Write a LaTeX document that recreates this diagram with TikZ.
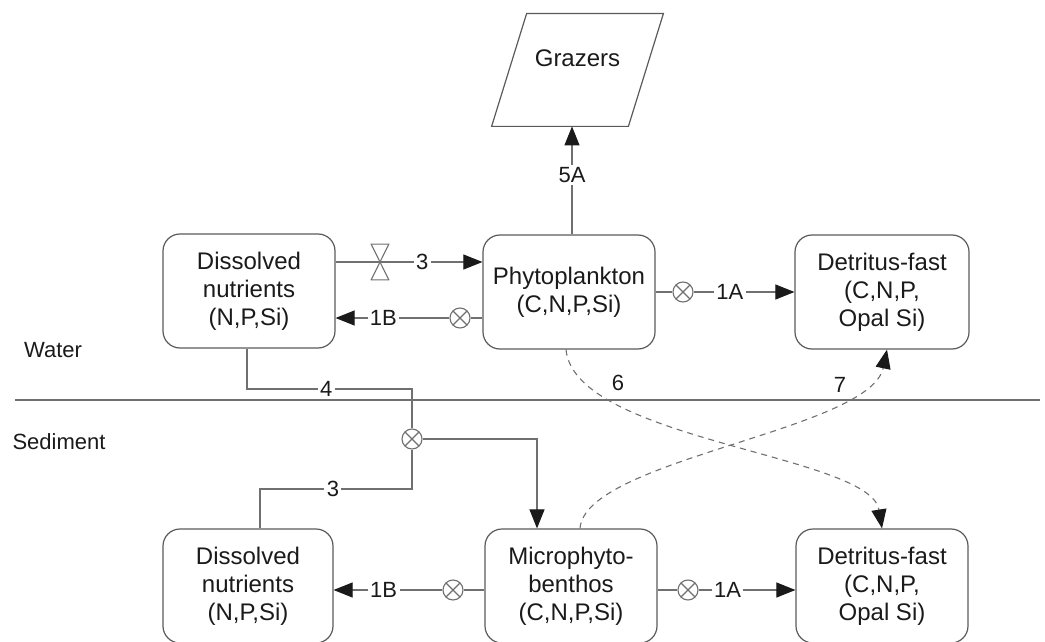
\documentclass[tikz,border=0pt]{standalone}
\usepackage{fontspec}
\setmainfont{Liberation Sans}
\usetikzlibrary{arrows.meta,calc}
\definecolor{linegray}{HTML}{707070}
\definecolor{boxgray}{HTML}{5A5A5A}
\definecolor{ink}{HTML}{1A1A1A}

\begin{document}
\begin{tikzpicture}[x=0.5pt,y=-0.5pt,
  compart/.style={draw=boxgray, line width=0.6pt, rounded corners=8.5pt,
    minimum width=86pt, minimum height=57pt, inner sep=0pt, align=center,
    font=\fontsize{12}{14}\selectfont, text=ink},
  nametext/.style={inner sep=0pt, font=\fontsize{12}{14}\selectfont, text=ink},
  side/.style={inner sep=0pt, font=\fontsize{11}{13}\selectfont, text=ink},
  conn/.style={draw=linegray, line width=0.55pt},
  arr/.style={conn, -{Triangle[length=9.5pt,width=7.5pt,color=ink]}},
  flow/.style={arr, dash pattern=on 3pt off 2.5pt},
  lbl/.style={fill=white, inner sep=1.2pt, font=\fontsize{11}{13}\selectfont, text=ink},
  flowlbl/.style={inner sep=0pt, font=\fontsize{11}{13}\selectfont, text=ink},
  mixer/.style={circle, draw=linegray, line width=0.55pt, fill=white,
    minimum size=10pt, inner sep=0pt,
    path picture={\draw[linegray, line width=0.55pt]
      (path picture bounding box.north west) -- (path picture bounding box.south east)
      (path picture bounding box.north east) -- (path picture bounding box.south west);}},
  valvebox/.style={minimum width=8.5pt, minimum height=17.5pt, inner sep=0pt}
]
\useasboundingbox (0,0) rectangle (1045,642);

% compartments, water column
\node[compart] (dnw) at (249,291) {Dissolved\\nutrients\\(N,P,Si)};
\node[compart] (phy) at (569,292) {Phytoplankton\\(C,N,P,Si)};
\node[compart, minimum width=87pt] (dfw) at (882,292) {Detritus-fast\\(C,N,P,\\Opal Si)};

% compartments, sediment
\node[compart, minimum width=85pt] (dns) at (248,586) {Dissolved\\nutrients\\(N,P,Si)};
\node[compart] (mpb) at (571,586) {Microphyto-\\benthos\\(C,N,P,Si)};
\node[compart] (dfs) at (882,586) {Detritus-fast\\(C,N,P,\\Opal Si)};

% grazers (parallelogram)
\node[minimum width=85.5pt, minimum height=56pt, inner sep=0pt] (graz) at (577.5,70) {};
\draw[boxgray, line width=0.6pt] (graz.south west) -- ([xshift=17.5pt]graz.north west)
  -- (graz.north east) -- ([xshift=-17.5pt]graz.south east) -- cycle;
\node[nametext] (grazname) at ([yshift=6pt]graz.center) {Grazers};

% water / sediment interface
\node[side] (water) at (53,350) {Water};
\node[side] (sediment) at (59,442) {Sediment};
\coordinate (sepL) at (15,400);
\coordinate (sepR) at (1040,400);
\draw[conn] (sepL) -- (sepR);

% process symbols
\node[valvebox] (v3) at (380,262) {};
\node[mixer] (m1b) at (460,318) {};
\node[mixer] (m1a) at (683,292) {};
\node[mixer] (m4) at (412,439) {};
\node[mixer] (m1bs) at (453,590) {};
\node[mixer] (m1as) at (688,590) {};

% 3: uptake in the water column
\draw[arr] (dnw.east |- v3) -- node[lbl, pos=0.59] {3} (phy.west |- v3);
\fill[white] (v3.north west) -- (v3.north east) -- (v3.center) -- cycle
  (v3.south west) -- (v3.south east) -- (v3.center) -- cycle;
\draw[linegray, line width=0.55pt, line join=round]
  (v3.north west) -- (v3.north east) -- (v3.center) -- cycle
  (v3.south west) -- (v3.south east) -- (v3.center) -- cycle;

% 1B / 1A in the water column
\draw[conn] (phy.west |- m1b) -- (m1b.east);
\draw[arr] (m1b.west) -- node[lbl, pos=0.58] {1B} (dnw.east |- m1b);
\draw[conn] (phy.east |- m1a) -- (m1a.west);
\draw[arr] (m1a.east) -- node[lbl, pos=0.36] {1A} (dfw.west |- m1a);

% 5A: grazing
\coordinate (p5) at ($(phy.north)+(3,0)$);
\draw[arr] (p5) -- node[lbl, pos=0.55] {5A} (p5 |- graz.south);

% 4 and 3: nutrient supply to microphytobenthos
\coordinate (j4) at (412,389);
\coordinate (j3) at (412,489);
\draw[conn] ($(dnw.south)+(-2,0)$) |- node[lbl, pos=0.74] {4} (j4) -- (m4.north);
\draw[conn] ($(dns.north)+(12,0)$) |- node[lbl, pos=0.74] {3} (j3) -- (m4.south);
\draw[arr] (m4.east) -| ($(mpb.north)+(-34,0)$);

% 1B / 1A in the sediment
\draw[conn] (mpb.west |- m1bs) -- (m1bs.east);
\draw[arr] (m1bs.west) -- node[lbl, pos=0.54] {1B} (dns.east |- m1bs);
\draw[conn] (mpb.east |- m1as) -- (m1as.west);
\draw[arr] (m1as.east) -- node[lbl, pos=0.30] {1A} (dfs.west |- m1as);

% 6: sinking, 7: resuspension
\draw[flow] ($(phy.south)+(-3,0)$) .. controls +(9,91) and +(-12,-74) .. (dfs.north);
\draw[flow] ($(mpb.north)+(9,0)$) .. controls +(5,-69) and +(-17,81) .. ($(dfw.south)+(5,0)$);
\node[flowlbl] (l6) at (618,383) {6};
\node[flowlbl] (l7) at (840,385) {7};
\end{tikzpicture}
\end{document}
